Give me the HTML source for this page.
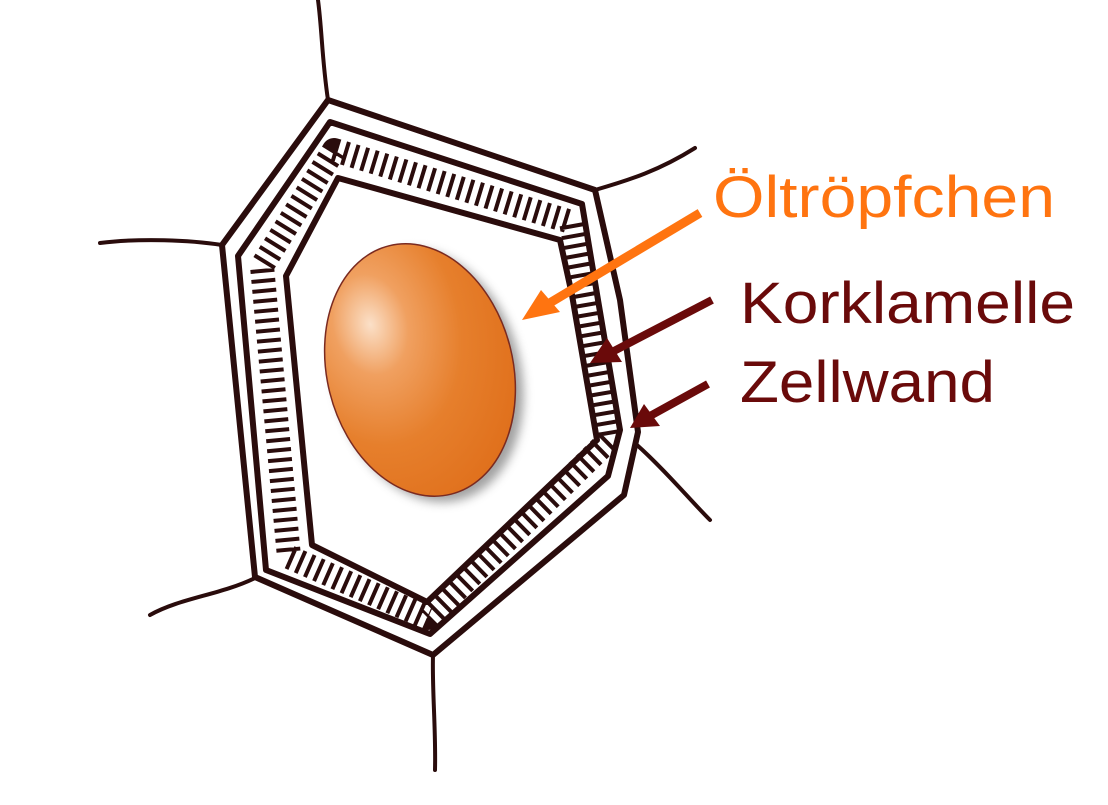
<!DOCTYPE html>
<html><head><meta charset="utf-8"><style>html,body{margin:0;padding:0;background:#fff}svg{display:block}</style></head>
<body>
<svg width="1108" height="805" viewBox="0 0 1108 805" xmlns="http://www.w3.org/2000/svg">
<defs>
<radialGradient id="g" cx="0.3" cy="0.28" r="0.8">
<stop offset="0" stop-color="#fbe0c8"/>
<stop offset="0.25" stop-color="#f0a060"/>
<stop offset="0.6" stop-color="#e67f2c"/>
<stop offset="1" stop-color="#e0701c"/>
</radialGradient>
<filter id="sh" x="-30%" y="-30%" width="160%" height="160%"><feGaussianBlur stdDeviation="5"/></filter>
</defs>
<g fill="none" stroke="#2a0c0c" stroke-linejoin="round" stroke-linecap="round">
<path d="M328,100 C322,60 322,30 318,0" stroke-width="4"/>
<path d="M222,245 C190,240 140,238 100,243" stroke-width="4"/>
<path d="M595,190 C630,180 660,170 695,148" stroke-width="4"/>
<path d="M637,445 C665,470 690,500 710,520" stroke-width="4"/>
<path d="M433,655 C432,690 436,730 435,770" stroke-width="4"/>
<path d="M255,578 C220,595 180,598 150,615" stroke-width="4"/>
<path d="M328,100 L595,190 L620,300 L638,432 L624,495 L433,655 L255,577 L222,245 Z" stroke-width="6"/>
<path d="M330,122 L582,204 L598,300 L620,430 L608,476 L430,634 L266,570 L238,256 Z" stroke-width="6"/>
<path d="M334,150 L571,222 L585,300 L609,440 L428,618 L289,557 L262,266 Z" stroke-width="24" stroke-dasharray="4 6" stroke-linecap="butt"/>
<path d="M338,178 L560,240 L572,295 L597,440 L427,602 L312,545 L286,276 Z" stroke-width="6"/>
</g>
<ellipse cx="428" cy="376" rx="93" ry="128" transform="rotate(-14 428 376)" fill="#555" opacity="0.55" filter="url(#sh)"/>
<ellipse cx="420" cy="370" rx="93" ry="128" transform="rotate(-14 420 370)" fill="url(#g)" stroke="#7a2a20" stroke-width="1.5"/>
<g stroke-linecap="butt">
<line x1="700" y1="213" x2="548" y2="304" stroke="#ff7410" stroke-width="9"/>
<polygon points="522,320 541,290 560,312" fill="#ff7410"/>
<line x1="712" y1="300" x2="612" y2="352" stroke="#6a0a0a" stroke-width="8"/>
<polygon points="590,363 607,338 622,362" fill="#6a0a0a"/>
<line x1="708" y1="384" x2="650" y2="416" stroke="#6a0a0a" stroke-width="8"/>
<polygon points="630,428 644,404 660,426" fill="#6a0a0a"/>
</g>
<g font-family="Liberation Sans, sans-serif" font-size="58">
<text x="713" y="217" fill="#ff7410" textLength="342" lengthAdjust="spacingAndGlyphs">Öltröpfchen</text>
<text x="740" y="323" fill="#6a0a0a" textLength="335" lengthAdjust="spacingAndGlyphs">Korklamelle</text>
<text x="740" y="402" fill="#6a0a0a" textLength="255" lengthAdjust="spacingAndGlyphs">Zellwand</text>
</g>
</svg>
</body></html>
